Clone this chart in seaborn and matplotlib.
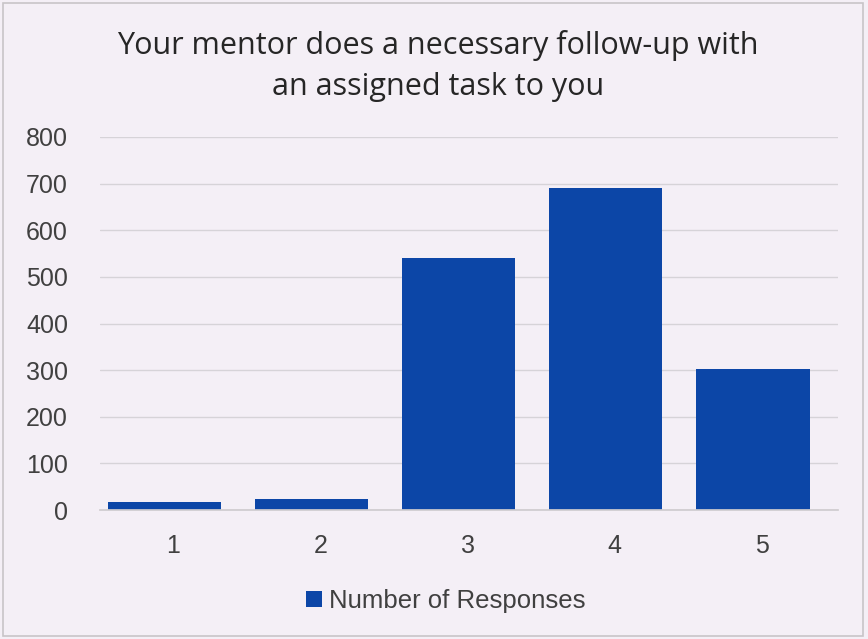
import matplotlib
matplotlib.use("Agg")
import matplotlib.pyplot as plt
import matplotlib.transforms as mtransforms
import seaborn as sns
import pandas as pd
from matplotlib.patches import Rectangle

categories = ["1", "2", "3", "4", "5"]
responses = [18, 23, 541, 690, 302]
series_name = "Number of Responses"
title = "Your mentor does a necessary follow-up with\nan assigned task to you"
yticks = [0, 100, 200, 300, 400, 500, 600, 700, 800]

bg = "#f4eff6"
bar_color = "#0c46a7"

sns.set_theme(style="white")
plt.rcParams["font.family"] = ["Liberation Sans", "DejaVu Sans"]

df = pd.DataFrame({"Rating": categories, "Count": responses, "Series": series_name})

fig = plt.figure(figsize=(8.68, 6.39), dpi=100, facecolor=bg)
ax = fig.add_axes([100/868, (639-510)/639, (838-100)/868, (510-137)/639])
ax.set_facecolor(bg)

sns.barplot(data=df, x="Rating", y="Count", hue="Series", palette=[bar_color],
            width=0.77, ax=ax, saturation=1, legend=True, linewidth=0)

ax.set_xlim(-0.438, 4.578)
ax.set_ylim(0, 800)
ax.set_yticks(yticks)
ax.set_yticklabels([str(t) for t in yticks])
ax.grid(axis="y", color="#d6d3d8", linewidth=1)
ax.set_axisbelow(True)
for s in ["left", "right", "top"]:
    ax.spines[s].set_visible(False)
ax.spines["bottom"].set_color("#cfcccf")
ax.tick_params(axis="both", length=0, labelsize=18, colors="#404040")
ax.tick_params(axis="y", pad=23)
ax.tick_params(axis="x", pad=17)
ax.set_xlabel("")
ax.set_ylabel("")

offset = mtransforms.ScaledTranslation(9/100, 0, fig.dpi_scale_trans)
for lbl in ax.get_xticklabels():
    lbl.set_transform(lbl.get_transform() + offset)

sns.move_legend(ax, "center", bbox_to_anchor=(446/868, (639-601)/639),
                bbox_transform=fig.transFigure, frameon=False, title=None,
                fontsize=18.5, handlelength=0.6, handleheight=0.6, handletextpad=0.3)
for t in ax.get_legend().get_texts():
    t.set_color("#404040")

fig.text(438/868, (639-66)/639, title, ha="center", va="center", fontsize=22,
         color="#262626", linespacing=1.45, family=["Open Sans", "DejaVu Sans"])

fig.patches.append(Rectangle((0.004, 0.005), 0.99, 0.99, transform=fig.transFigure,
                             fill=False, edgecolor="#c8c4c8", linewidth=1.2))

fig.savefig("out.png", dpi=100, facecolor=bg)
